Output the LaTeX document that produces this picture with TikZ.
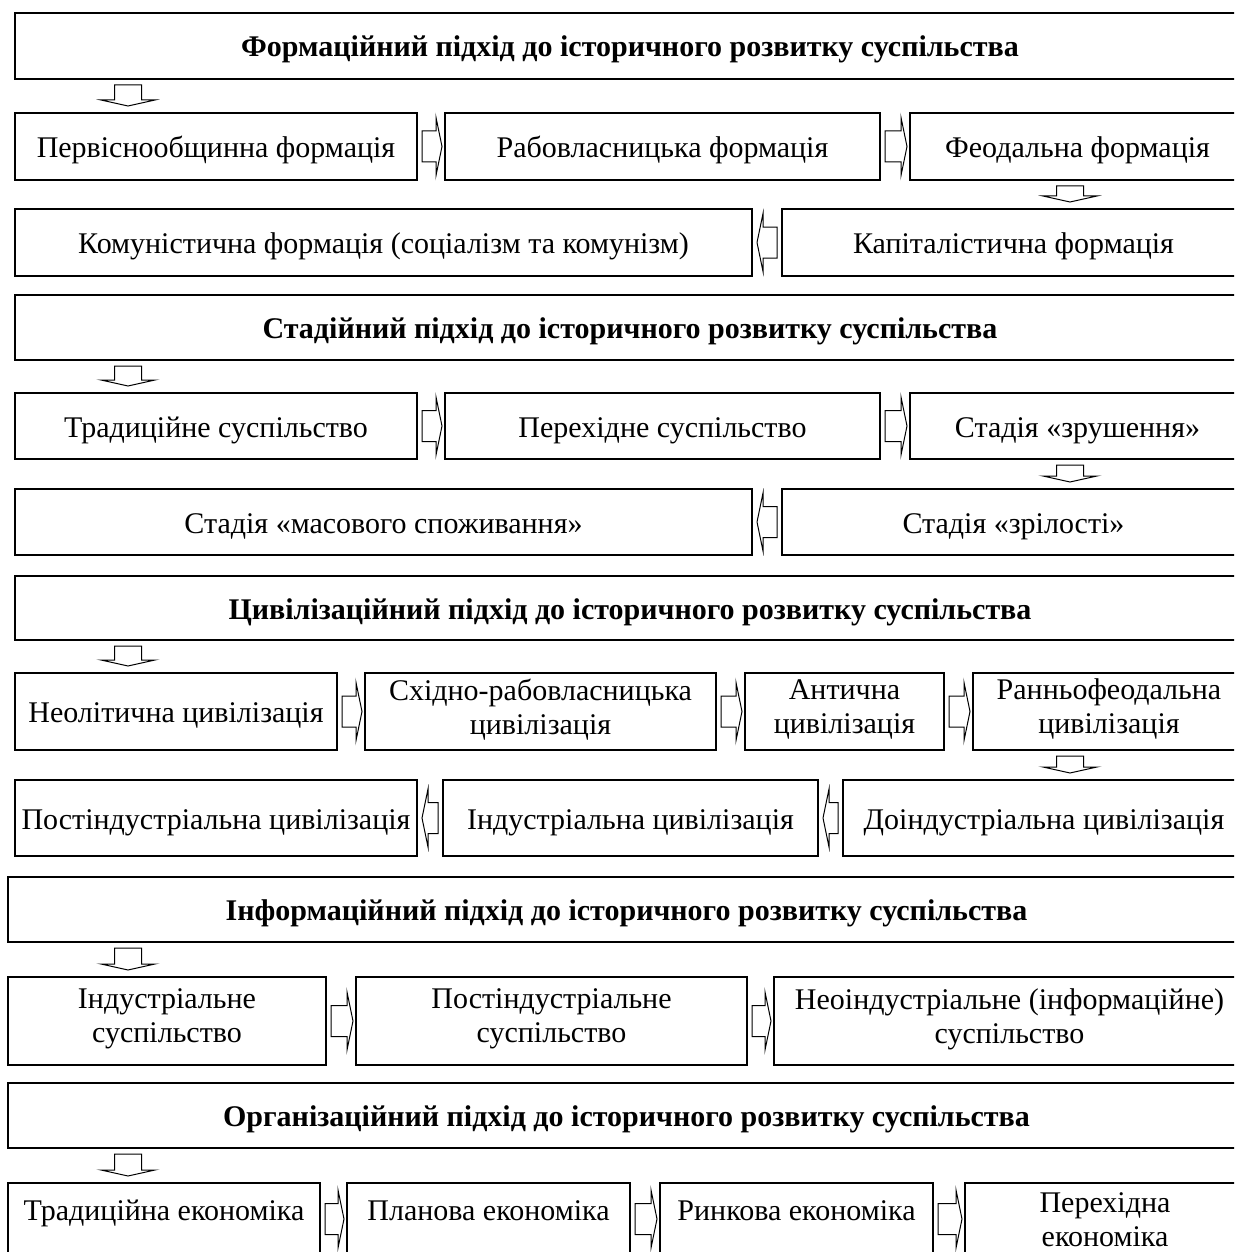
\documentclass[tikz,border=0pt]{standalone}
\usepackage{fontspec}
\setmainfont{Liberation Serif}
\usetikzlibrary{calc}

\newcommand{\boxstrut}{\rule[-12pt]{0pt}{46pt}}

\tikzset{
  box/.style={draw,line width=2.6pt,outer sep=0pt,inner sep=2pt,align=center,
    anchor=north west,font=\fontsize{30}{34}\selectfont,
    execute at begin node=\boxstrut,execute at end node=\boxstrut},
  headbox/.style={box,font=\fontsize{30}{34}\selectfont\bfseries},
  twoline/.code={\def\boxstrut{\rule[-10pt]{0pt}{34pt}}},
  lastrow/.code={\def\boxstrut{\rule[-20pt]{0pt}{42pt}}},
  blockarr/.style={draw,line width=1pt,line join=miter}
}

% hollow block arrows between two boxes
\newcommand{\blockright}[2]{%
  \draw[blockarr] ($(#1.east)+(5,-15.5)$) -- ($(#2.west |- #1.east)+(-9,-15.5)$)
    -- ($(#2.west |- #1.east)+(-9,-29)$) -- ($(#2.west |- #1.east)+(-3,0)$)
    -- ($(#2.west |- #1.east)+(-9,29)$) -- ($(#2.west |- #1.east)+(-9,15.5)$)
    -- ($(#1.east)+(5,15.5)$) -- cycle;}
\newcommand{\blockleft}[2]{%
  \draw[blockarr] ($(#1.east)+(5,0)$) -- ($(#1.east)+(11,-29)$)
    -- ($(#1.east)+(11,-15.5)$) -- ($(#2.west |- #1.east)+(-5,-15.5)$)
    -- ($(#2.west |- #1.east)+(-5,15.5)$) -- ($(#1.east)+(11,15.5)$)
    -- ($(#1.east)+(11,29)$) -- cycle;}
\newcommand{\blockdown}[3]{%
  \draw[blockarr] ($(#1.south -| #3)+(-13.5,6)$) -- ($(#2.north -| #3)+(-13.5,-13)$)
    -- ($(#2.north -| #3)+(-27,-13)$) -- ($(#2.north -| #3)+(0,-7)$)
    -- ($(#2.north -| #3)+(27,-13)$) -- ($(#2.north -| #3)+(13.5,-13)$)
    -- ($(#1.south -| #3)+(13.5,6)$) -- cycle;}

\begin{document}
\begin{tikzpicture}[x=1pt,y=-1pt]
  \useasboundingbox (0,0) rectangle (1234,1252);
  \clip (0,0) rectangle (1234,1252);
  \coordinate (dl) at (128,0);
  \coordinate (dr) at (1070,0);

  % Formational approach
  \node[headbox,minimum width=1230pt,minimum height=66pt] (form) at (15,13)
    {Формаційний підхід до історичного розвитку суспільства};
  \node[box,minimum width=402pt,minimum height=67pt] (form1) at (15,113) {Первіснообщинна формація};
  \node[box,minimum width=435pt,minimum height=67pt] (form2) at (445,113) {Рабовласницька формація};
  \node[box,minimum width=335pt,minimum height=67pt] (form3) at (910,113) {Феодальна формація};
  \node[box,minimum width=737pt,minimum height=67pt] (form5) at (15,209)
    {Комуністична формація (соціалізм та комунізм)};
  \node[box,minimum width=463pt,minimum height=67pt] (form4) at (782,209) {Капіталістична формація};

  \blockdown{form}{form1}{dl}
  \blockright{form1}{form2}
  \blockright{form2}{form3}
  \blockdown{form3}{form4}{dr}
  \blockleft{form5}{form4}

  % Stage approach
  \node[headbox,minimum width=1230pt,minimum height=65pt] (stad) at (15,295)
    {Стадійний підхід до історичного розвитку суспільства};
  \node[box,minimum width=402pt,minimum height=66pt] (stad1) at (15,393) {Традиційне суспільство};
  \node[box,minimum width=435pt,minimum height=66pt] (stad2) at (445,393) {Перехідне суспільство};
  \node[box,minimum width=335pt,minimum height=66pt] (stad3) at (910,393) {Стадія «зрушення»};
  \node[box,minimum width=737pt,minimum height=66pt] (stad5) at (15,489) {Стадія «масового споживання»};
  \node[box,minimum width=463pt,minimum height=66pt] (stad4) at (782,489) {Стадія «зрілості»};

  \blockdown{stad}{stad1}{dl}
  \blockright{stad1}{stad2}
  \blockright{stad2}{stad3}
  \blockdown{stad3}{stad4}{dr}
  \blockleft{stad5}{stad4}

  % Civilizational approach
  \node[headbox,minimum width=1230pt,minimum height=64pt] (civ) at (15,576)
    {Цивілізаційний підхід до історичного розвитку суспільства};
  \node[box,minimum width=322pt,minimum height=77pt] (civ1) at (15,673) {Неолітична цивілізація};
  \node[box,twoline,minimum width=351pt,minimum height=77pt] (civ2) at (365,673) {Східно-рабовласницька\\цивілізація};
  \node[box,twoline,minimum width=199pt,minimum height=77pt] (civ3) at (745,673) {Антична\\цивілізація};
  \node[box,twoline,minimum width=272pt,minimum height=77pt] (civ4) at (973,673) {Ранньофеодальна\\цивілізація};
  \node[box,minimum width=402pt,minimum height=76pt] (civ7) at (15,780) {Постіндустріальна цивілізація};
  \node[box,minimum width=375pt,minimum height=76pt] (civ6) at (443,780) {Індустріальна цивілізація};
  \node[box,minimum width=402pt,minimum height=76pt] (civ5) at (843,780) {Доіндустріальна цивілізація};

  \blockdown{civ}{civ1}{dl}
  \blockright{civ1}{civ2}
  \blockright{civ2}{civ3}
  \blockright{civ3}{civ4}
  \blockdown{civ4}{civ5}{dr}
  \blockleft{civ6}{civ5}
  \blockleft{civ7}{civ6}

  % Information approach
  \node[headbox,minimum width=1237pt,minimum height=65pt] (info) at (8,877)
    {Інформаційний підхід до історичного розвитку суспільства};
  \node[box,twoline,minimum width=318pt,minimum height=88pt] (info1) at (8,977) {Індустріальне\\суспільство};
  \node[box,twoline,minimum width=391pt,minimum height=88pt] (info2) at (356,977) {Постіндустріальне\\суспільство};
  \node[box,twoline,minimum width=471pt,minimum height=88pt] (info3) at (774,977)
    {Неоіндустріальне (інформаційне)\\суспільство};

  \blockdown{info}{info1}{dl}
  \blockright{info1}{info2}
  \blockright{info2}{info3}

  % Organizational approach
  \node[headbox,minimum width=1237pt,minimum height=65pt] (org) at (8,1083)
    {Організаційний підхід до історичного розвитку суспільства};
  \node[box,lastrow,minimum width=312pt,minimum height=72pt] (org1) at (8,1183) {Традиційна економіка};
  \node[box,lastrow,minimum width=283pt,minimum height=72pt] (org2) at (347,1183) {Планова економіка};
  \node[box,lastrow,minimum width=273pt,minimum height=72pt] (org3) at (660,1183) {Ринкова економіка};
  \node[box,twoline,minimum width=280pt,minimum height=84pt] (org4) at (965,1183) {Перехідна\\економіка};

  \blockdown{org}{org1}{dl}
  \blockright{org1}{org2}
  \blockright{org2}{org3}
  \blockright{org3}{org4}
\end{tikzpicture}
\end{document}
